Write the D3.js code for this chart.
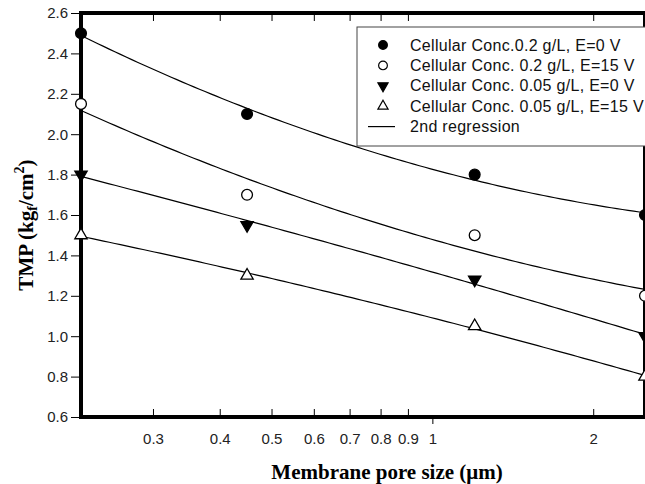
<!DOCTYPE html>
<html lang="en">
<head>
<meta charset="UTF-8">
<title>TMP vs membrane pore size</title>
<script src="https://cdn.jsdelivr.net/npm/d3@7"></script>
<style>
  body { margin: 0; background: #fff; }
  text { font-family: "Liberation Sans", Arial, sans-serif; }
</style>
</head>
<body>
<script>
  // values
  const poreSize = [0.22, 0.45, 1.2, 2.5];
  const conc02_0V = [2.5, 2.1, 1.8, 1.6];
  const conc02_15V = [2.15, 1.7, 1.5, 1.2];
  const conc005_0V = [1.8, 1.55, 1.28, 1.0];
  const conc005_15V = [1.5, 1.3, 1.05, 0.8];
  const legendLabels = [
    "Cellular Conc.0.2 g/L, E=0 V",
    "Cellular Conc. 0.2 g/L, E=15 V",
    "Cellular Conc. 0.05 g/L, E=0 V",
    "Cellular Conc. 0.05 g/L, E=15 V",
    "2nd regression"
  ];
  const xTickValues = [0.3, 0.4, 0.5, 0.6, 0.7, 0.8, 0.9, 1, 2];
  const xMinorTicks = [0.3, 0.4, 0.5, 0.6, 0.7, 0.8, 0.9, 2];
  const yTickValues = [0.6, 0.8, 1.0, 1.2, 1.4, 1.6, 1.8, 2.0, 2.2, 2.4, 2.6];

  const width = 645, height = 484;
  const marge = { top: 13, bottom: 67, left: 81, right: 0 };

  const svg = d3.select("body").append("svg")
    .attr("width", width)
    .attr("height", height);

  const x = d3.scaleLog().domain([0.22, 2.5]).range([marge.left, width - marge.right]);
  const y = d3.scaleLinear().domain([0.6, 2.6]).range([height - marge.bottom, marge.top]);

  const series = [
    { values: conc02_0V, shape: d3.symbolCircle, fill: "#000", rot: 0 },
    { values: conc02_15V, shape: d3.symbolCircle, fill: "#fff", rot: 0 },
    { values: conc005_0V, shape: d3.symbolTriangle, fill: "#000", rot: 180 },
    { values: conc005_15V, shape: d3.symbolTriangle, fill: "#fff", rot: 0 }
  ];

  // 2nd order regression on log10(x)
  function quadFit(xs, ys) {
    const u = xs.map(Math.log10);
    const S = [0, 0, 0, 0, 0], T = [0, 0, 0];
    u.forEach((v, i) => {
      for (let k = 0; k < 5; k++) S[k] += v ** k;
      for (let k = 0; k < 3; k++) T[k] += ys[i] * v ** k;
    });
    const M = [[S[0], S[1], S[2], T[0]], [S[1], S[2], S[3], T[1]], [S[2], S[3], S[4], T[2]]];
    for (let i = 0; i < 3; i++) {
      for (let j = i + 1; j < 3; j++) {
        const f = M[j][i] / M[i][i];
        for (let k = i; k < 4; k++) M[j][k] -= f * M[i][k];
      }
    }
    const c = [0, 0, 0];
    for (let i = 2; i >= 0; i--) {
      let s = M[i][3];
      for (let k = i + 1; k < 3; k++) s -= M[i][k] * c[k];
      c[i] = s / M[i][i];
    }
    return xv => { const v = Math.log10(xv); return c[0] + c[1] * v + c[2] * v * v; };
  }

  const [x0, x1] = x.domain();
  const samples = d3.range(101).map(i => x0 * Math.pow(x1 / x0, i / 100));
  const line = d3.line().x(d => x(d[0])).y(d => y(d[1]));

  svg.append("g")
    .selectAll("path")
    .data(series)
    .enter()
    .append("path")
    .attr("d", s => {
      const f = quadFit(poreSize, s.values);
      return line(samples.map(v => [v, f(v)]));
    })
    .attr("fill", "none")
    .attr("stroke", "#000")
    .attr("stroke-width", 1.2);

  // y axis
  const yAxis = svg.append("g")
    .attr("transform", "translate(" + marge.left + ",0)")
    .call(d3.axisLeft(y).tickValues(yTickValues).tickSize(10).tickPadding(3).tickFormat(d3.format(".1f")));
  yAxis.select(".domain").remove();

  // bottom axis: minor ticks inside, major tick at 1 outside
  const xAxis = svg.append("g")
    .attr("transform", "translate(0," + (height - marge.bottom) + ")")
    .call(d3.axisBottom(x).tickValues(xTickValues).tickSizeInner(-8).tickSizeOuter(0).tickPadding(16)
      .tickFormat(d3.format("~g")));
  xAxis.select(".domain").remove();
  xAxis.selectAll(".tick line").attr("y2", d => d === 1 ? 7 : -8);

  // top axis: minor ticks pointing down
  const topAxis = svg.append("g")
    .attr("transform", "translate(0," + marge.top + ")")
    .call(d3.axisTop(x).tickValues(xMinorTicks).tickSize(-8).tickFormat(""));
  topAxis.select(".domain").remove();

  svg.selectAll(".tick text")
    .attr("font-size", 15)
    .attr("font-family", "Liberation Sans, Arial, sans-serif")
    .attr("fill", "#222");
  svg.selectAll(".tick line").attr("stroke", "#000");

  // frame
  svg.append("rect")
    .attr("x", marge.left)
    .attr("y", marge.top)
    .attr("width", width - marge.right - marge.left)
    .attr("height", height - marge.bottom - marge.top)
    .attr("fill", "none")
    .attr("stroke", "#000")
    .attr("stroke-width", 4);

  // points
  series.forEach(s => {
    svg.append("g")
      .selectAll("path")
      .data(s.values)
      .enter()
      .append("path")
      .attr("d", d3.symbol().type(s.shape).size(s.shape === d3.symbolCircle ? 92 : 66))
      .attr("transform", (d, i) => "translate(" + x(poreSize[i]) + "," + y(d) + ") rotate(" + s.rot + ")")
      .attr("fill", s.fill)
      .attr("stroke", "#000")
      .attr("stroke-width", 1.3);
  });

  // legend
  const lg = svg.append("g").attr("transform", "translate(357,27)");
  lg.append("rect")
    .attr("width", 300)
    .attr("height", 119)
    .attr("fill", "#fff")
    .attr("stroke", "#444")
    .attr("stroke-width", 1);
  const rowY = i => 18 + i * 20.4;
  series.forEach((s, i) => {
    lg.append("path")
      .attr("d", d3.symbol().type(s.shape).size(s.shape === d3.symbolCircle ? 60 : 45))
      .attr("transform", "translate(26," + rowY(i) + ") rotate(" + s.rot + ")")
      .attr("fill", s.fill)
      .attr("stroke", "#000")
      .attr("stroke-width", 1.2);
  });
  lg.append("line")
    .attr("x1", 11).attr("x2", 38)
    .attr("y1", rowY(4)).attr("y2", rowY(4))
    .attr("stroke", "#000")
    .attr("stroke-width", 1.2);
  lg.selectAll("text.lbl")
    .data(legendLabels)
    .enter()
    .append("text")
    .attr("class", "lbl")
    .attr("x", 53)
    .attr("y", (d, i) => rowY(i))
    .attr("dy", "0.35em")
    .attr("font-size", 16)
    .attr("letter-spacing", 0.3)
    .attr("fill", "#111")
    .text(d => d);

  // axis titles
  svg.append("text")
    .attr("x", 387)
    .attr("y", 479)
    .attr("text-anchor", "middle")
    .style("font-family", "'Liberation Serif', 'Times New Roman', serif")
    .attr("font-weight", "bold")
    .attr("font-size", 21)
    .text("Membrane pore size (μm)");

  const yt = svg.append("text")
    .attr("transform", "translate(33,225) rotate(-90)")
    .attr("text-anchor", "middle")
    .style("font-family", "'Liberation Serif', 'Times New Roman', serif")
    .attr("font-weight", "bold")
    .attr("font-size", 21);
  yt.append("tspan").text("TMP (kg");
  yt.append("tspan").attr("font-size", 14).attr("dy", 4).text("f");
  yt.append("tspan").attr("dy", -4).text("/cm");
  yt.append("tspan").attr("font-size", 14).attr("dy", -9).text("2");
  yt.append("tspan").attr("dy", 9).text(")");
</script>
</body>
</html>
